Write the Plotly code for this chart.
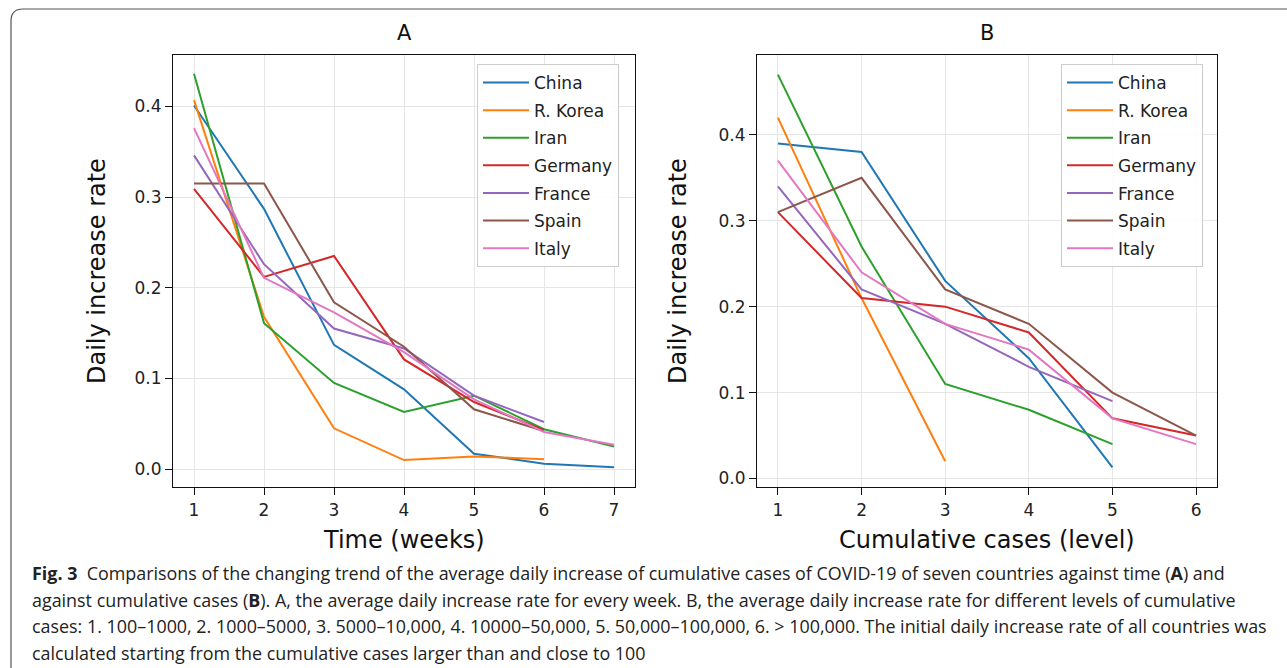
import plotly.graph_objects as go

W, H = 1287, 668

countries = ["China", "R. Korea", "Iran", "Germany", "France", "Spain", "Italy"]
colors = ["#1f77b4", "#ff7f0e", "#2ca02c", "#d62728", "#9467bd", "#8c564b", "#e377c2"]

# Panel A: time (weeks)
weeks = [1, 2, 3, 4, 5, 6, 7]
a_china = [0.401, 0.287, 0.137, 0.088, 0.017, 0.006, 0.002]
a_korea = [0.407, 0.168, 0.045, 0.010, 0.014, 0.011]
a_iran = [0.436, 0.161, 0.095, 0.063, 0.081, 0.044, 0.025]
a_germany = [0.309, 0.212, 0.235, 0.121, 0.074, 0.043]
a_france = [0.346, 0.226, 0.155, 0.133, 0.081, 0.052]
a_spain = [0.315, 0.315, 0.184, 0.135, 0.066, 0.042]
a_italy = [0.376, 0.211, 0.173, 0.129, 0.077, 0.041, 0.027]

# Panel B: cumulative cases (level)
levels = [1, 2, 3, 4, 5, 6]
b_china = [0.39, 0.38, 0.23, 0.14, 0.013]
b_korea = [0.42, 0.21, 0.02]
b_iran = [0.47, 0.27, 0.11, 0.08, 0.04]
b_germany = [0.31, 0.21, 0.20, 0.17, 0.07, 0.05]
b_france = [0.34, 0.22, 0.18, 0.13, 0.09]
b_spain = [0.31, 0.35, 0.22, 0.18, 0.10, 0.05]
b_italy = [0.37, 0.24, 0.18, 0.15, 0.07, 0.04]

series_a = [a_china, a_korea, a_iran, a_germany, a_france, a_spain, a_italy]
series_b = [b_china, b_korea, b_iran, b_germany, b_france, b_spain, b_italy]

caption_lines = [
    "<b>Fig. 3</b>  Comparisons of the changing trend of the average daily increase of cumulative cases of COVID-19 of seven countries against time (<b>A</b>) and",
    "against cumulative cases (<b>B</b>). A, the average daily increase rate for every week. B, the average daily increase rate for different levels of cumulative",
    "cases: 1. 100–1000, 2. 1000–5000, 3. 5000–10,000, 4. 10000–50,000, 5. 50,000–100,000, 6. > 100,000. The initial daily increase rate of all countries was",
    "calculated starting from the cumulative cases larger than and close to 100",
]

def px_x(p):
    return p / W

def px_y(p):
    return 1 - p / H

fig = go.Figure()

for name, col, ys in zip(countries, colors, series_a):
    fig.add_trace(go.Scatter(x=weeks[:len(ys)], y=ys, mode="lines", name=name,
                             line=dict(color=col, width=2), xaxis="x", yaxis="y",
                             legend="legend", legendgroup="A" + name))
for name, col, ys in zip(countries, colors, series_b):
    fig.add_trace(go.Scatter(x=levels[:len(ys)], y=ys, mode="lines", name=name,
                             line=dict(color=col, width=2), xaxis="x2", yaxis="y2",
                             legend="legend2", legendgroup="B" + name))

tickfont = dict(family="DejaVu Sans", size=17, color="#222")
axis_common = dict(showline=True, linecolor="#111", linewidth=1.2, mirror=True,
                   ticks="outside", ticklen=7, tickwidth=1.2, tickcolor="#111",
                   showgrid=True, gridcolor="#e6e6e6", gridwidth=1, zeroline=False,
                   tickfont=tickfont, automargin=False)

ydom = [px_y(487), px_y(55)]
fig.update_layout(
    width=W, height=H, margin=dict(l=0, r=0, t=0, b=0),
    paper_bgcolor="white", plot_bgcolor="white",
    xaxis=dict(domain=[px_x(173), px_x(635)], range=[0.7, 7.3], dtick=1, tick0=1, anchor="y", **axis_common),
    yaxis=dict(domain=ydom, range=[-0.0197, 0.4567], dtick=0.1, tick0=0, tickformat=".1f", anchor="x", **axis_common),
    xaxis2=dict(domain=[px_x(757), px_x(1217)], range=[0.75, 6.25], dtick=1, tick0=1, anchor="y2", **axis_common),
    yaxis2=dict(domain=ydom, range=[-0.0099, 0.4929], dtick=0.1, tick0=0, tickformat=".1f", anchor="x2", **axis_common),
)

legend_common = dict(bgcolor="rgba(255,255,255,0.85)", bordercolor="#cccccc", borderwidth=1,
                     font=dict(family="DejaVu Sans", size=17, color="#222"),
                     xanchor="left", yanchor="top", traceorder="grouped", tracegroupgap=2.5,
                     itemwidth=46)
fig.update_layout(
    legend=dict(x=px_x(477), y=px_y(64), **legend_common),
    legend2=dict(x=px_x(1061), y=px_y(64), **legend_common),
)

annotations = []
# Panel titles
for txt, cx in [("A", 404), ("B", 987)]:
    annotations.append(dict(text=txt, x=px_x(cx), y=px_y(33), xref="paper", yref="paper",
                            showarrow=False, xanchor="center", yanchor="middle",
                            font=dict(family="DejaVu Sans", size=21, color="#111")))
# Axis titles
for txt, cx in [("Time (weeks)", 404), ("Cumulative cases (level)", 987)]:
    annotations.append(dict(text=txt, x=px_x(cx), y=px_y(540), xref="paper", yref="paper",
                            showarrow=False, xanchor="center", yanchor="middle",
                            font=dict(family="DejaVu Sans", size=24, color="#111")))
for cx in [97, 678]:
    annotations.append(dict(text="Daily increase rate", x=px_x(cx), y=px_y(271), xref="paper", yref="paper",
                            showarrow=False, xanchor="center", yanchor="middle", textangle=-90,
                            font=dict(family="DejaVu Sans", size=24, color="#111")))
# Caption
for i, line in enumerate(caption_lines):
    annotations.append(dict(text=line, x=px_x(30), y=px_y(573 + i * 26.7), xref="paper", yref="paper",
                            showarrow=False, xanchor="left", yanchor="middle", align="left",
                            font=dict(family="Open Sans", size=17.9, color="#222")))
fig.update_layout(annotations=annotations)

# Outer rounded frame (top-left corner)
x0 = px_x(11)
yt = px_y(9)
r_x = 12 / W
r_y = 12 / H
path = (f"M {x0},-0.02 L {x0},{yt - r_y} Q {x0},{yt} {x0 + r_x},{yt} L 1.02,{yt}")
fig.update_layout(shapes=[dict(type="path", path=path, xref="paper", yref="paper",
                               line=dict(color="#555", width=1.2))])

fig.write_html("out.html")
